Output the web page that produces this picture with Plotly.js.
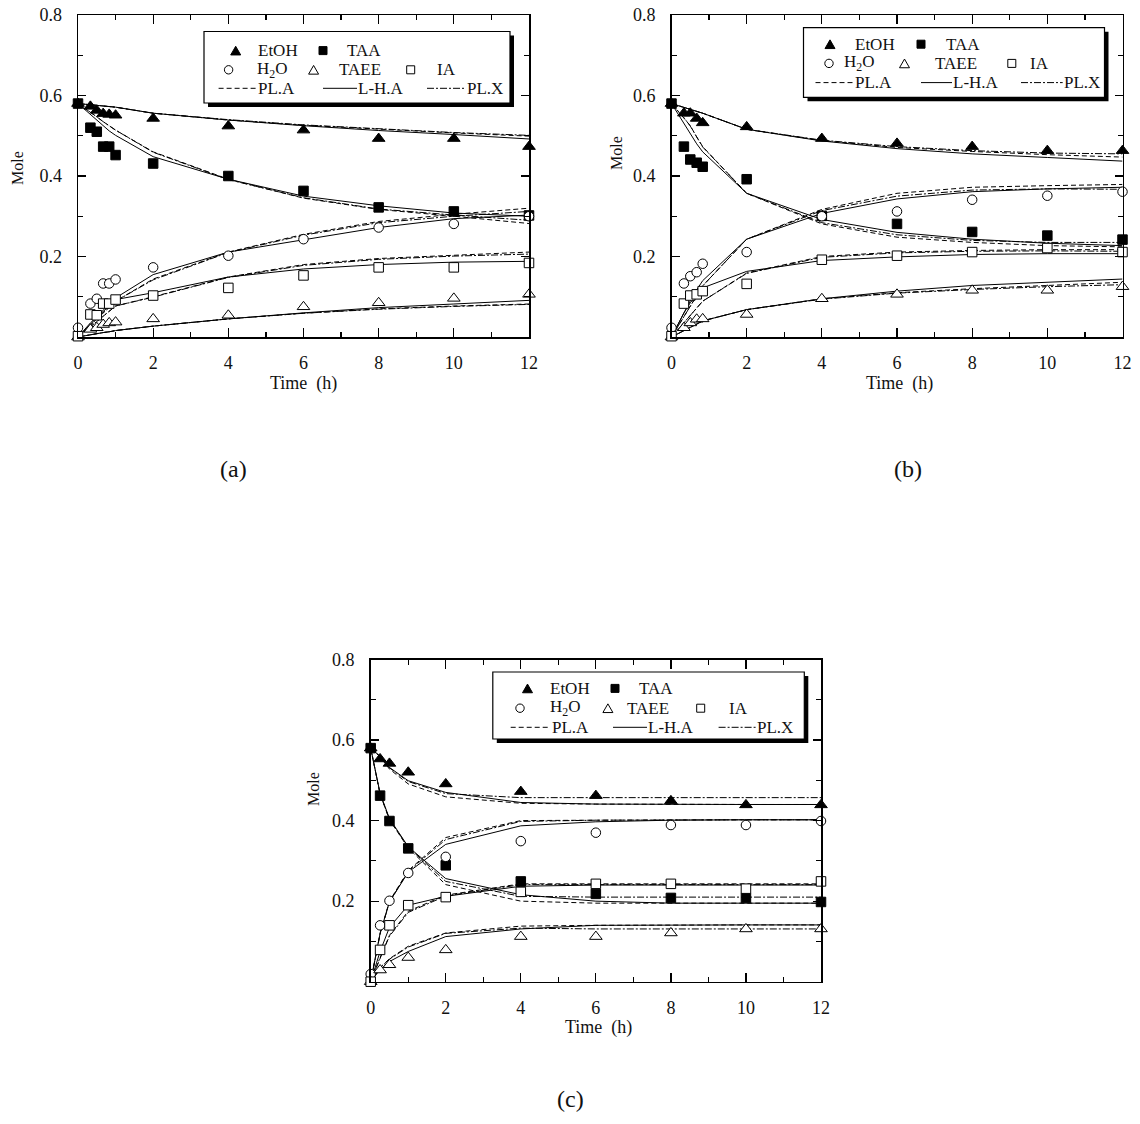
<!DOCTYPE html>
<html>
<head>
<meta charset="utf-8">
<script src="https://cdn.plot.ly/plotly-3.0.1.min.js"></script>
<style>
  html, body { margin: 0; padding: 0; background: #ffffff; }
  #chart { width: 1140px; height: 1124px; }
</style>
</head>
<body>
<div id="chart"></div>
<script>
// ---------------- Panel (a) ----------------
const timeA = [0, 0.33, 0.5, 0.67, 0.83, 1, 2, 4, 6, 8, 10, 12];
const expA_EtOH = [0.58, 0.573, 0.563, 0.555, 0.553, 0.551, 0.543, 0.524, 0.514, 0.493, 0.493, 0.473];
const expA_TAA  = [0.58, 0.52, 0.51, 0.473, 0.473, 0.452, 0.431, 0.40, 0.363, 0.322, 0.312, 0.302];
const expA_H2O  = [0.023, 0.083, 0.095, 0.133, 0.133, 0.143, 0.173, 0.202, 0.243, 0.272, 0.281, 0.30];
const expA_TAEE = [0.0, 0.019, 0.023, 0.031, 0.035, 0.037, 0.045, 0.054, 0.075, 0.085, 0.096, 0.106];
const expA_IA   = [0.002, 0.056, 0.054, 0.083, 0.083, 0.093, 0.103, 0.122, 0.153, 0.173, 0.173, 0.184];

const lhaA_EtOH = [0.58, 0.577, 0.576, 0.574, 0.573, 0.571, 0.556, 0.539, 0.525, 0.513, 0.503, 0.492];
const plaA_EtOH = [0.58, 0.577, 0.576, 0.574, 0.573, 0.571, 0.556, 0.539, 0.526, 0.516, 0.507, 0.499];
const plxA_EtOH = [0.58, 0.577, 0.576, 0.574, 0.573, 0.571, 0.556, 0.540, 0.527, 0.517, 0.508, 0.501];
const lhaA_TAA  = [0.58, 0.553, 0.538, 0.524, 0.512, 0.501, 0.448, 0.392, 0.350, 0.326, 0.308, 0.300];
const plaA_TAA  = [0.58, 0.559, 0.547, 0.535, 0.524, 0.514, 0.460, 0.392, 0.345, 0.317, 0.300, 0.282];
const plxA_TAA  = [0.58, 0.559, 0.547, 0.535, 0.524, 0.514, 0.459, 0.391, 0.346, 0.318, 0.303, 0.290];
const lhaA_H2O  = [0, 0.035, 0.050, 0.067, 0.082, 0.097, 0.155, 0.211, 0.242, 0.272, 0.294, 0.303];
const plaA_H2O  = [0, 0.030, 0.045, 0.060, 0.075, 0.089, 0.144, 0.211, 0.255, 0.287, 0.305, 0.320];
const plxA_H2O  = [0, 0.030, 0.045, 0.060, 0.075, 0.089, 0.142, 0.210, 0.253, 0.284, 0.300, 0.312];
const lhaA_TAEE = [0, 0.006, 0.008, 0.011, 0.013, 0.016, 0.027, 0.045, 0.060, 0.073, 0.082, 0.091];
const plaA_TAEE = [0, 0.006, 0.008, 0.011, 0.013, 0.016, 0.027, 0.045, 0.059, 0.070, 0.077, 0.082];
const plxA_TAEE = [0, 0.006, 0.008, 0.011, 0.013, 0.016, 0.027, 0.045, 0.059, 0.069, 0.076, 0.081];
const lhaA_IA   = [0, 0.033, 0.048, 0.063, 0.078, 0.093, 0.110, 0.149, 0.169, 0.180, 0.186, 0.188];
const plaA_IA   = [0, 0.026, 0.038, 0.051, 0.064, 0.077, 0.100, 0.149, 0.180, 0.195, 0.203, 0.211];
const plxA_IA   = [0, 0.026, 0.038, 0.051, 0.064, 0.077, 0.099, 0.148, 0.178, 0.193, 0.201, 0.206];

// ---------------- Panel (b) ----------------
const timeB = [0, 0.33, 0.5, 0.67, 0.83, 2, 4, 6, 8, 10, 12];
const expB_EtOH = [0.58, 0.556, 0.556, 0.543, 0.532, 0.522, 0.493, 0.481, 0.473, 0.463, 0.463];
const expB_TAA  = [0.58, 0.473, 0.441, 0.433, 0.423, 0.392, 0.301, 0.281, 0.261, 0.252, 0.242];
const expB_H2O  = [0.023, 0.133, 0.151, 0.161, 0.182, 0.211, 0.30, 0.312, 0.341, 0.351, 0.361];
const expB_TAEE = [0.0, 0.023, 0.035, 0.044, 0.045, 0.056, 0.095, 0.106, 0.116, 0.116, 0.125];
const expB_IA   = [0.002, 0.083, 0.103, 0.106, 0.114, 0.132, 0.192, 0.202, 0.211, 0.221, 0.211];

const lhaB_EtOH = [0.58, 0.571, 0.566, 0.561, 0.556, 0.516, 0.487, 0.468, 0.455, 0.446, 0.437];
const plaB_EtOH = [0.58, 0.571, 0.566, 0.561, 0.556, 0.516, 0.488, 0.471, 0.461, 0.453, 0.447];
const plxB_EtOH = [0.58, 0.571, 0.566, 0.561, 0.556, 0.516, 0.489, 0.473, 0.463, 0.457, 0.455];
const lhaB_TAA  = [0.58, 0.530, 0.505, 0.480, 0.460, 0.357, 0.292, 0.260, 0.243, 0.233, 0.227];
const plaB_TAA  = [0.58, 0.545, 0.525, 0.497, 0.473, 0.357, 0.281, 0.248, 0.235, 0.227, 0.224];
const plxB_TAA  = [0.58, 0.545, 0.524, 0.496, 0.472, 0.357, 0.284, 0.254, 0.240, 0.235, 0.235];
const lhaB_H2O  = [0, 0.060, 0.090, 0.117, 0.140, 0.243, 0.307, 0.343, 0.361, 0.368, 0.372];
const plaB_H2O  = [0, 0.050, 0.077, 0.103, 0.127, 0.243, 0.317, 0.357, 0.372, 0.376, 0.379];
const plxB_H2O  = [0, 0.050, 0.077, 0.103, 0.127, 0.243, 0.314, 0.350, 0.365, 0.368, 0.367];
const lhaB_TAEE = [0, 0.015, 0.024, 0.032, 0.040, 0.068, 0.095, 0.114, 0.128, 0.136, 0.144];
const plaB_TAEE = [0, 0.015, 0.024, 0.032, 0.040, 0.068, 0.095, 0.110, 0.120, 0.128, 0.136];
const plxB_TAEE = [0, 0.015, 0.024, 0.032, 0.040, 0.068, 0.094, 0.109, 0.118, 0.125, 0.130];
const lhaB_IA   = [0, 0.060, 0.085, 0.105, 0.122, 0.163, 0.190, 0.199, 0.205, 0.207, 0.207];
const plaB_IA   = [0, 0.035, 0.055, 0.072, 0.089, 0.159, 0.200, 0.211, 0.215, 0.217, 0.217];
const plxB_IA   = [0, 0.035, 0.055, 0.072, 0.089, 0.158, 0.198, 0.209, 0.213, 0.214, 0.213];

// ---------------- Panel (c) ----------------
const timeC = [0, 0.25, 0.5, 1, 2, 4, 6, 8, 10, 12];
const expC_EtOH = [0.58, 0.553, 0.542, 0.52, 0.491, 0.472, 0.462, 0.449, 0.439, 0.439];
const expC_TAA  = [0.58, 0.462, 0.399, 0.331, 0.289, 0.249, 0.218, 0.208, 0.208, 0.198];
const expC_H2O  = [0.019, 0.14, 0.201, 0.27, 0.31, 0.349, 0.37, 0.389, 0.389, 0.399];
const expC_TAEE = [0.0, 0.029, 0.042, 0.06, 0.079, 0.112, 0.112, 0.121, 0.131, 0.131];
const expC_IA   = [0.0, 0.079, 0.14, 0.19, 0.21, 0.223, 0.243, 0.243, 0.231, 0.249];

const lhaC_EtOH = [0.58, 0.560, 0.532, 0.499, 0.470, 0.445, 0.441, 0.440, 0.440, 0.440];
const plaC_EtOH = [0.58, 0.558, 0.528, 0.491, 0.459, 0.443, 0.441, 0.440, 0.440, 0.440];
const plxC_EtOH = [0.58, 0.559, 0.531, 0.497, 0.467, 0.457, 0.457, 0.457, 0.457, 0.457];
const lhaC_TAA  = [0.58, 0.468, 0.405, 0.335, 0.256, 0.216, 0.200, 0.195, 0.195, 0.195];
const plaC_TAA  = [0.58, 0.466, 0.402, 0.332, 0.241, 0.200, 0.195, 0.195, 0.195, 0.195];
const plxC_TAA  = [0.58, 0.466, 0.403, 0.334, 0.249, 0.212, 0.210, 0.210, 0.210, 0.210];
const lhaC_H2O  = [0, 0.120, 0.198, 0.272, 0.341, 0.387, 0.397, 0.401, 0.402, 0.402];
const plaC_H2O  = [0, 0.120, 0.200, 0.276, 0.358, 0.400, 0.401, 0.402, 0.402, 0.402];
const plxC_H2O  = [0, 0.118, 0.198, 0.274, 0.353, 0.398, 0.401, 0.402, 0.402, 0.402];
const lhaC_TAEE = [0, 0.030, 0.050, 0.075, 0.112, 0.131, 0.140, 0.141, 0.141, 0.141];
const plaC_TAEE = [0, 0.035, 0.057, 0.088, 0.121, 0.138, 0.140, 0.141, 0.141, 0.141];
const plxC_TAEE = [0, 0.034, 0.056, 0.086, 0.120, 0.133, 0.131, 0.131, 0.131, 0.131];
const lhaC_IA   = [0, 0.075, 0.135, 0.190, 0.212, 0.237, 0.240, 0.240, 0.240, 0.240];
const plaC_IA   = [0, 0.060, 0.115, 0.175, 0.215, 0.243, 0.243, 0.243, 0.243, 0.243];
const plxC_IA   = [0, 0.060, 0.113, 0.172, 0.213, 0.241, 0.241, 0.241, 0.241, 0.241];

// Axis tick labels
const xTickVals = [0, 2, 4, 6, 8, 10, 12];
const xTickText = ['0', '2', '4', '6', '8', '10', '12'];
const yTickVals = [0.2, 0.4, 0.6, 0.8];
const yTickText = ['0.2', '0.4', '0.6', '0.8'];
const panelLabels = ['(a)', '(b)', '(c)'];
const xTitle = 'Time\u00a0 (h)';
const yTitle = 'Mole';

// ---------------- Styling ----------------
const W = 1140, H = 1124;
const FONT = 'Liberation Serif';
const DASH = '5px,3px';
const DASHDOT = '7px,2px,2px,2px';
const px = x => x / W;
const py = y => 1 - y / H;

const modelStyles = {
  pla: { dash: DASH },
  lha: { dash: 'solid' },
  plx: { dash: DASHDOT }
};
const markerStyles = {
  EtOH: { symbol: 'triangle-up', size: 11, color: '#000', line: { color: '#000', width: 1 } },
  TAA:  { symbol: 'square', size: 9.5, color: '#000', line: { color: '#000', width: 1 } },
  H2O:  { symbol: 'circle', size: 9.5, color: '#fff', line: { color: '#000', width: 1 } },
  TAEE: { symbol: 'triangle-up', size: 11, color: '#fff', line: { color: '#000', width: 1 } },
  IA:   { symbol: 'square', size: 9.5, color: '#fff', line: { color: '#000', width: 1 } }
};

const panels = [
  { xa: 'x',  ya: 'y',  t: timeA,
    exp: { EtOH: expA_EtOH, TAA: expA_TAA, H2O: expA_H2O, TAEE: expA_TAEE, IA: expA_IA },
    pla: [plaA_EtOH, plaA_TAA, plaA_H2O, plaA_TAEE, plaA_IA],
    lha: [lhaA_EtOH, lhaA_TAA, lhaA_H2O, lhaA_TAEE, lhaA_IA],
    plx: [plxA_EtOH, plxA_TAA, plxA_H2O, plxA_TAEE, plxA_IA] },
  { xa: 'x2', ya: 'y2', t: timeB,
    exp: { EtOH: expB_EtOH, TAA: expB_TAA, H2O: expB_H2O, TAEE: expB_TAEE, IA: expB_IA },
    pla: [plaB_EtOH, plaB_TAA, plaB_H2O, plaB_TAEE, plaB_IA],
    lha: [lhaB_EtOH, lhaB_TAA, lhaB_H2O, lhaB_TAEE, lhaB_IA],
    plx: [plxB_EtOH, plxB_TAA, plxB_H2O, plxB_TAEE, plxB_IA] },
  { xa: 'x3', ya: 'y3', t: timeC,
    exp: { EtOH: expC_EtOH, TAA: expC_TAA, H2O: expC_H2O, TAEE: expC_TAEE, IA: expC_IA },
    pla: [plaC_EtOH, plaC_TAA, plaC_H2O, plaC_TAEE, plaC_IA],
    lha: [lhaC_EtOH, lhaC_TAA, lhaC_H2O, lhaC_TAEE, lhaC_IA],
    plx: [plxC_EtOH, plxC_TAA, plxC_H2O, plxC_TAEE, plxC_IA] }
];

const traces = [];
panels.forEach(p => {
  ['pla', 'plx', 'lha'].forEach(model => {
    p[model].forEach(series => {
      traces.push({
        type: 'scatter', mode: 'lines', x: p.t, y: series,
        xaxis: p.xa, yaxis: p.ya, hoverinfo: 'skip',
        line: { color: '#000', width: 1, dash: modelStyles[model].dash }
      });
    });
  });
  Object.keys(p.exp).forEach(sp => {
    traces.push({
      type: 'scatter', mode: 'markers', x: p.t, y: p.exp[sp],
      xaxis: p.xa, yaxis: p.ya, cliponaxis: false, name: sp,
      marker: markerStyles[sp]
    });
  });
});

// Plot-area rectangles in page pixels: [left, top, right, bottom]
const boxes = [
  [78, 15, 529, 337],
  [671.5, 15, 1122.5, 337],
  [370.7, 659.5, 821, 981.7]
];

function xAxis(b, anchor) {
  return {
    domain: [px(b[0]), px(b[2])], anchor: anchor, range: [0, 12],
    tickmode: 'array', tickvals: xTickVals, ticktext: xTickText,
    ticks: 'inside', ticklen: 9, tickwidth: 1.2, tickcolor: '#000',
    showline: true, linecolor: '#000', linewidth: 1.5, mirror: 'ticks',
    showgrid: false, zeroline: false, ticklabelstandoff: 9,
    tickfont: { family: FONT, size: 18, color: '#111' },
    minor: { tickmode: 'linear', tick0: 0, dtick: 1, ticks: 'inside', ticklen: 5, tickwidth: 1.2, tickcolor: '#000', showgrid: false },
    fixedrange: true
  };
}
function yAxis(b, anchor) {
  return {
    domain: [py(b[3]), py(b[1])], anchor: anchor, range: [0, 0.8],
    tickmode: 'array', tickvals: yTickVals, ticktext: yTickText,
    ticks: 'inside', ticklen: 8, tickwidth: 1.2, tickcolor: '#000',
    showline: true, linecolor: '#000', linewidth: 1.5, mirror: 'ticks',
    showgrid: false, zeroline: false, ticklabelstandoff: 11,
    tickfont: { family: FONT, size: 18, color: '#111' },
    minor: { tickmode: 'linear', tick0: 0, dtick: 0.1, ticks: 'inside', ticklen: 5, tickwidth: 1.2, tickcolor: '#000', showgrid: false },
    fixedrange: true
  };
}

const shapes = [];
const annotations = [];

function text(x, y, str, size, opts) {
  annotations.push(Object.assign({
    xref: 'paper', yref: 'paper', x: px(x), y: py(y), text: str, showarrow: false,
    xanchor: 'left', yanchor: 'middle', borderpad: 0,
    font: { family: FONT, size: size, color: '#111' }
  }, opts || {}));
}

// Axis titles and panel labels
const titlePos = [
  { mole: [18, 168], time: [303, 383], label: [233, 469] },
  { mole: [616, 153], time: [899, 383], label: [908, 469] },
  { mole: [313, 789], time: [598, 1027], label: [570, 1099] }
];
titlePos.forEach((tp, i) => {
  text(tp.mole[0], tp.mole[1], yTitle, 16, { xanchor: 'center', textangle: -90 });
  text(tp.time[0], tp.time[1], xTitle, 18, { xanchor: 'center' });
  text(tp.label[0], tp.label[1], panelLabels[i], 24, { xanchor: 'center' });
});

// Legend blocks drawn inside each panel
const legends = [
  { box: [204, 31.5, 510, 103], rows: [50.6, 69.8, 88.3],
    triF: 235.7, tEtOH: 257, sqF: 323, tTAA: 346,
    circ: 228.6, tH2O: 256, triO: 313.6, tTAEE: 337.5, sqO: 410.7, tIA: 436.4,
    dash: [218.6, 256.4], tPLA: 257, solid: [323, 357], tLHA: 357, dd: [427, 464], tPLX: 466 },
  { box: [803.5, 27.7, 1104.5, 97.3], rows: [44.2, 63.4, 82.6],
    triF: 830, tEtOH: 853.6, sqF: 921, tTAA: 944.5,
    circ: 829, tH2O: 842.7, triO: 904.5, tTAEE: 933.6, sqO: 1011.8, tIA: 1029,
    dash: [815.5, 853.6], tPLA: 854, solid: [921, 952], tLHA: 952, dd: [1021, 1062.7], tPLX: 1062.7 },
  { box: [492.8, 672, 804.3, 739], rows: [688.4, 708.2, 727.3],
    triF: 527.5, tEtOH: 549, sqF: 615, tTAA: 638,
    circ: 520, tH2O: 549, triO: 607.9, tTAEE: 625.7, sqO: 700.7, tIA: 727.5,
    dash: [510.7, 550], tPLA: 550.7, solid: [613, 647], tLHA: 647, dd: [718.6, 756], tPLX: 756 }
];

function rectPx(x0, y0, x1, y1, fill, lineW) {
  shapes.push({ type: 'rect', xref: 'paper', yref: 'paper', layer: 'above',
    x0: px(x0), x1: px(x1), y0: py(y1), y1: py(y0),
    fillcolor: fill, line: { color: '#000', width: lineW } });
}
function triPx(cx, cy, s, fill) {
  const h = s * 0.87;
  const p = `M ${px(cx - s / 2)} ${py(cy + h / 2)} L ${px(cx + s / 2)} ${py(cy + h / 2)} L ${px(cx)} ${py(cy - h / 2)} Z`;
  shapes.push({ type: 'path', xref: 'paper', yref: 'paper', layer: 'above', path: p,
    fillcolor: fill, line: { color: '#000', width: 1 } });
}
function circPx(cx, cy, r) {
  shapes.push({ type: 'circle', xref: 'paper', yref: 'paper', layer: 'above',
    x0: px(cx - r), x1: px(cx + r), y0: py(cy + r), y1: py(cy - r),
    fillcolor: '#fff', line: { color: '#000', width: 1 } });
}
function linePx(x0, x1, y, dash) {
  shapes.push({ type: 'line', xref: 'paper', yref: 'paper', layer: 'above',
    x0: px(x0), x1: px(x1), y0: py(y), y1: py(y),
    line: { color: '#000', width: 1, dash: dash } });
}

const LS = 17;   // legend text size
legends.forEach(L => {
  const b = L.box, r = L.rows;
  rectPx(b[0] + 4, b[1] + 4, b[2] + 4, b[3] + 4, '#000', 0);   // drop shadow
  rectPx(b[0], b[1], b[2], b[3], '#fff', 1.2);
  triPx(L.triF, r[0], 10, '#000');
  text(L.tEtOH, r[0], 'EtOH', LS);
  rectPx(L.sqF - 4, r[0] - 4, L.sqF + 4, r[0] + 4, '#000', 1);
  text(L.tTAA, r[0], 'TAA', LS);
  circPx(L.circ, r[1], 4.2);
  text(L.tH2O, r[1], 'H<sub>2</sub>O', LS);
  triPx(L.triO, r[1], 10, '#fff');
  text(L.tTAEE, r[1], 'TAEE', LS);
  rectPx(L.sqO - 4, r[1] - 4, L.sqO + 4, r[1] + 4, '#fff', 1);
  text(L.tIA, r[1], 'IA', LS);
  linePx(L.dash[0], L.dash[1], r[2], DASH);
  text(L.tPLA, r[2], 'PL.A', LS);
  linePx(L.solid[0], L.solid[1], r[2], 'solid');
  text(L.tLHA, r[2], 'L-H.A', LS);
  linePx(L.dd[0], L.dd[1], r[2], DASHDOT);
  text(L.tPLX, r[2], 'PL.X', LS);
});

const layout = {
  width: W, height: H,
  margin: { l: 0, r: 0, t: 0, b: 0, pad: 0 },
  paper_bgcolor: '#ffffff', plot_bgcolor: '#ffffff',
  showlegend: false,
  xaxis: xAxis(boxes[0], 'y'),   yaxis: yAxis(boxes[0], 'x'),
  xaxis2: xAxis(boxes[1], 'y2'), yaxis2: yAxis(boxes[1], 'x2'),
  xaxis3: xAxis(boxes[2], 'y3'), yaxis3: yAxis(boxes[2], 'x3'),
  shapes: shapes,
  annotations: annotations
};

Plotly.newPlot('chart', traces, layout, { staticPlot: true, displayModeBar: false });
</script>
</body>
</html>
